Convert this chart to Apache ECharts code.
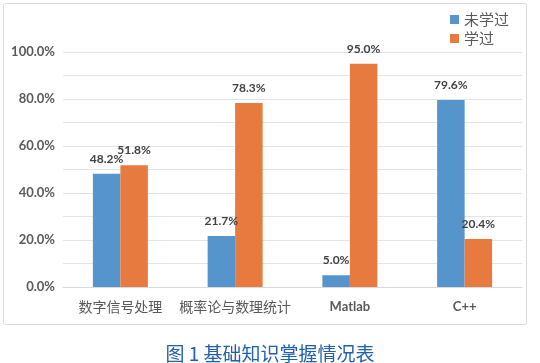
<!DOCTYPE html>
<html>
<head>
<meta charset="utf-8">
<script src="https://cdn.jsdelivr.net/npm/echarts@6/dist/echarts.min.js"></script>
<style>
html,body{margin:0;padding:0;background:#fff;}
#main{width:540px;height:363px;}
</style>
</head>
<body>
<div id="main"></div>
<script>
var categories = ['数字信号处理', '概率论与数理统计', 'Matlab', 'C++'];
var notLearned = [48.2, 21.7, 5.0, 79.6];
var learned = [51.8, 78.3, 95.0, 20.4];
var seriesNames = ['未学过', '学过'];
var yTickLabels = ['0.0%', '20.0%', '40.0%', '60.0%', '80.0%', '100.0%'];
var captionText = '图 1 基础知识掌握情况表';

var cjk = '"Noto Sans CJK SC", "Noto Sans", sans-serif';
var catData = categories.map(function (c) {
  var latin = /^[A-Za-z+]+$/.test(c);
  return {
    value: c,
    textStyle: latin ? { fontWeight: 'bold', fontSize: 13, fontFamily: 'Lato, "Open Sans", sans-serif' }
                     : { fontWeight: 'normal', fontSize: 14, fontFamily: cjk }
  };
});

var labelCfg = {
  show: true,
  position: 'top',
  distance: 9,
  fontSize: 12,
  fontWeight: 'bold',
  color: '#404040',
  fontFamily: 'Lato, "Open Sans", sans-serif',
  formatter: function (p) { return p.value.toFixed(1) + '%'; }
};

var chart = echarts.init(document.getElementById('main'), null, { renderer: 'canvas' });
chart.setOption({
  animation: false,
  backgroundColor: '#fff',
  color: ['#5694CC', '#E67A3F'],
  title: {
    text: captionText,
    left: 'center',
    top: 339,
    textStyle: { color: '#2160AC', fontSize: 19, fontWeight: 'normal', fontFamily: cjk }
  },
  graphic: [{
    type: 'rect',
    shape: { x: 3.5, y: 3.5, width: 523, height: 321, r: 2 },
    style: { fill: 'none', stroke: '#d9d9d9', lineWidth: 1 },
    silent: true
  }],
  legend: {
    orient: 'vertical',
    left: 445,
    top: 7,
    itemWidth: 9,
    itemHeight: 9,
    itemGap: 4,
    icon: 'rect',
    textStyle: { fontSize: 15, color: '#595959', fontFamily: cjk },
    data: seriesNames
  },
  grid: {
    left: 63, right: 18, top: 52, bottom: 76,
    containLabel: false,
    outerBoundsMode: 'none'
  },
  xAxis: {
    type: 'category',
    data: catData,
    axisLine: { lineStyle: { color: '#d9d9d9' } },
    axisTick: { show: false },
    axisLabel: { color: '#595959', margin: 13, interval: 0, hideOverlap: false }
  },
  yAxis: {
    type: 'value',
    min: 0,
    max: 100,
    interval: 10,
    axisLine: { show: false },
    axisTick: { show: false },
    splitLine: { lineStyle: { color: '#e3e3e3' } },
    axisLabel: {
      color: '#595959',
      fontSize: 13,
      fontWeight: 'bold',
      fontFamily: 'Lato, "Open Sans", sans-serif',
      margin: 8,
      formatter: function (v) {
        if (Math.round(v) % 20 !== 0) return '';
        return yTickLabels[Math.round(v) / 20];
      }
    }
  },
  series: [{
    name: seriesNames[0],
    type: 'bar',
    data: notLearned,
    barWidth: 27.5,
    barGap: '0%',
    label: labelCfg
  }, {
    name: seriesNames[1],
    type: 'bar',
    data: learned,
    barWidth: 27.5,
    label: labelCfg
  }]
});
</script>
</body>
</html>
